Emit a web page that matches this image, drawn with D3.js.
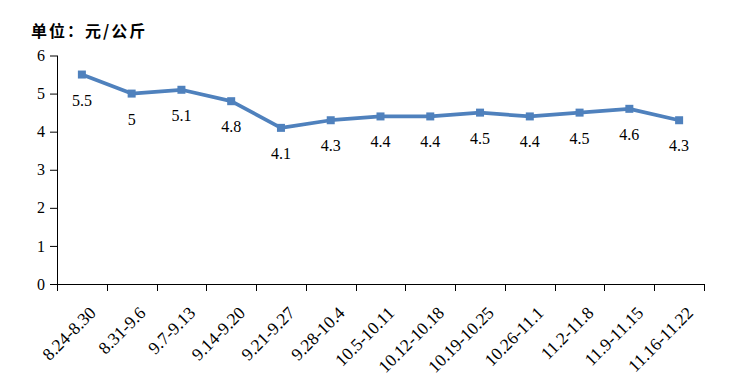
<!DOCTYPE html>
<html><head><meta charset="utf-8">
<script src="https://cdnjs.cloudflare.com/ajax/libs/d3/7.8.5/d3.min.js"></script>
<style>
body{margin:0;background:#fff;}
svg{display:block;}
</style></head>
<body>
<svg id="chart" width="750" height="390"></svg>
<script>
const categories = ["8.24-8.30","8.31-9.6","9.7-9.13","9.14-9.20","9.21-9.27","9.28-10.4","10.5-10.11","10.12-10.18","10.19-10.25","10.26-11.1","11.2-11.8","11.9-11.15","11.16-11.22"];
const values = [5.5,5,5.1,4.8,4.1,4.3,4.4,4.4,4.5,4.4,4.5,4.6,4.3];
const yTicks = [0,1,2,3,4,5,6];
const unitLabel = "单位：元/公斤";

(function(){
const svg = d3.select("#chart");
const pLeft = 57, pRight = 704, pTop = 55.5, pBottom = 284;
const SERIF = '"Liberation Serif"';

const x = d3.scaleBand().domain(categories).range([pLeft, pRight]).padding(0);
const y = d3.scaleLinear().domain([0, 6]).range([pBottom, pTop]);

// title
svg.append("text").attr("x", 31).attr("y", 37)
  .style("font-family", '"Noto Sans CJK SC"').style("font-weight", "bold")
  .style("font-size", "16px").style("letter-spacing", "2px").attr("fill", "#000").text(unitLabel);

// y axis
const yAxis = svg.append("g").attr("transform", `translate(${pLeft},0)`)
  .call(d3.axisLeft(y).tickValues(yTicks).tickSize(7).tickPadding(5).tickFormat(d3.format("d")));
yAxis.select(".domain").attr("stroke", "#000").attr("d", `M0.5,${pTop}V${pBottom}`);
yAxis.selectAll(".tick line").attr("stroke", "#000");
yAxis.selectAll(".tick text").style("font-family", SERIF).style("font-size", "16px").attr("fill", "#000");

// x axis
const bounds = categories.map(c => x(c)).concat([x.range()[1]]);
const xg = svg.append("g").attr("transform", `translate(0,${pBottom})`);
xg.append("line").attr("x1", pLeft).attr("x2", pRight).attr("y1", 0.5).attr("y2", 0.5).attr("stroke", "#000");
xg.selectAll("line.tk").data(bounds).join("line").attr("class", "tk")
  .attr("x1", d => Math.round(d) + 0.5).attr("x2", d => Math.round(d) + 0.5)
  .attr("y1", 0).attr("y2", 7).attr("stroke", "#000");
xg.selectAll("text.xl").data(categories).join("text").attr("class", "xl")
  .attr("transform", d => `translate(${x(d) + x.bandwidth()/2 + 15},${30}) rotate(-45)`)
  .attr("text-anchor", "end")
  .style("font-family", SERIF).style("font-size", "17.5px").attr("fill", "#000")
  .text(d => d);

// line
const line = d3.line().x((d, i) => x(categories[i]) + x.bandwidth()/2).y(d => y(d));
svg.append("path").datum(values).attr("d", line)
  .attr("fill", "none").attr("stroke", "#4F81BD").attr("stroke-width", 3.75).attr("stroke-linejoin", "round");

svg.selectAll("rect.mk").data(values).join("rect").attr("class", "mk")
  .attr("x", (d, i) => x(categories[i]) + x.bandwidth()/2 - 4)
  .attr("y", d => y(d) - 4).attr("width", 8).attr("height", 8)
  .attr("fill", "#4F81BD");

// data labels
svg.selectAll("text.lbl").data(values).join("text").attr("class", "lbl")
  .attr("x", (d, i) => x(categories[i]) + x.bandwidth()/2)
  .attr("y", d => y(d) + 31)
  .attr("text-anchor", "middle")
  .style("font-family", SERIF).style("font-size", "16px").attr("fill", "#000")
  .text(d => d3.format("")(d));
})();
</script>
</body></html>
